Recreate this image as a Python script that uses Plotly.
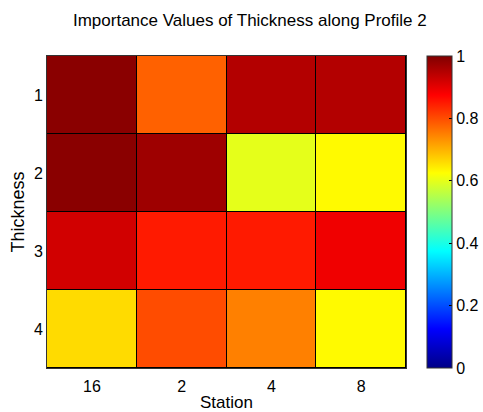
import plotly.graph_objects as go

stations = ["16", "2", "4", "8"]
thickness = ["1", "2", "3", "4"]
importance = [
    [0.99, 0.78, 0.95, 0.95],
    [0.99, 0.97, 0.60, 0.63],
    [0.92, 0.85, 0.85, 0.89],
    [0.66, 0.80, 0.75, 0.63],
]

jet = [
    [0.0, "rgb(0,0,135)"],
    [0.125, "rgb(0,0,255)"],
    [0.375, "rgb(0,255,255)"],
    [0.625, "rgb(255,255,0)"],
    [0.875, "rgb(255,0,0)"],
    [1.0, "rgb(128,0,0)"],
]

FONT = "Liberation Sans, Arial"

fig = go.Figure(go.Heatmap(
    z=importance, x=stations, y=thickness,
    colorscale=jet, zmin=0, zmax=1, xgap=1, ygap=1,
    colorbar=dict(
        thickness=25, len=1.0, lenmode="fraction", y=0.5, yanchor="middle",
        x=1.058, xanchor="left", xpad=0, ypad=0,
        outlinewidth=1, outlinecolor="#333",
        tickvals=[0, 0.2, 0.4, 0.6, 0.8, 1], ticktext=["0", "0.2", "0.4", "0.6", "0.8", "1"],
        ticks="inside", ticklen=3, tickcolor="black",
        tickfont=dict(family=FONT, size=16, color="black"),
    ),
))

fig.update_layout(
    width=483, height=412,
    margin=dict(l=47, r=77, t=56, b=44, autoexpand=False),
    paper_bgcolor="white", plot_bgcolor="black",
    title=dict(text="Importance Values of Thickness along Profile 2", x=0.565, xanchor="center",
               xref="paper", y=0.9515, yref="container", yanchor="middle",
               font=dict(family=FONT, size=17, color="black")),
    font=dict(family=FONT, color="black"),
    xaxis=dict(type="category", title=dict(text="Station", font=dict(size=17), standoff=3),
               tickfont=dict(size=16), showline=True, linecolor="#333", mirror=True,
               ticks="outside", ticklen=4, tickcolor="rgba(0,0,0,0)",
               showgrid=False, zeroline=False),
    yaxis=dict(type="category", autorange="reversed",
               title=dict(text="Thickness", font=dict(size=18), standoff=4),
               tickfont=dict(size=16), showline=True, linecolor="#333", mirror=True,
               ticks="", showgrid=False, zeroline=False),
)

fig.write_html("out.html")
